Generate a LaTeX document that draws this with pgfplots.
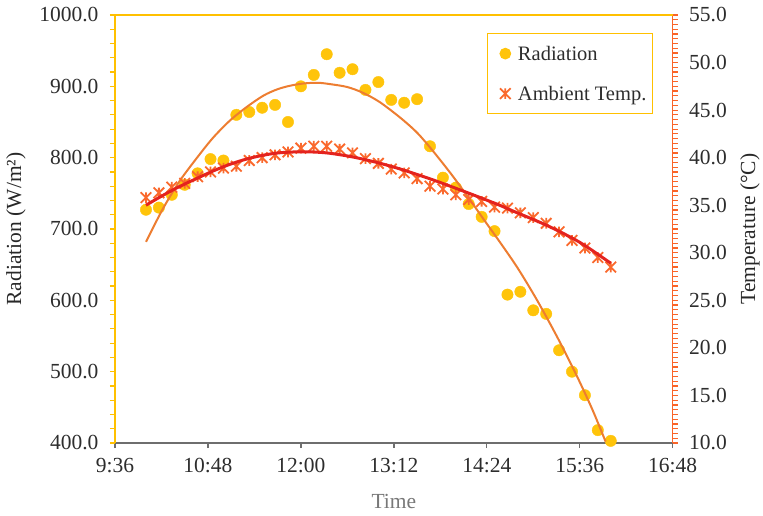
\documentclass[border=0pt]{standalone}
\usepackage{pgfplots}
\pgfplotsset{compat=1.18}
\usepackage{fontspec}
\setmainfont{Liberation Serif}

\definecolor{gold}{RGB}{255,192,0}
\definecolor{axorange}{RGB}{250,100,40}
\definecolor{dotgold}{RGB}{255,196,10}
\definecolor{trendorange}{RGB}{237,125,49}
\definecolor{tempmark}{RGB}{250,105,45}
\definecolor{tempred}{RGB}{228,35,30}
\definecolor{ticktext}{RGB}{45,45,45}
\definecolor{labeltext}{RGB}{40,40,40}
\definecolor{timegray}{RGB}{120,120,120}
\definecolor{bottomgray}{RGB}{110,110,110}

% x-cross with a vertical stroke, as used for the temperature readings
\pgfdeclareplotmark{starx}{%
  \pgfpathmoveto{\pgfqpoint{-\pgfplotmarksize}{-\pgfplotmarksize}}%
  \pgfpathlineto{\pgfqpoint{\pgfplotmarksize}{\pgfplotmarksize}}%
  \pgfpathmoveto{\pgfqpoint{-\pgfplotmarksize}{\pgfplotmarksize}}%
  \pgfpathlineto{\pgfqpoint{\pgfplotmarksize}{-\pgfplotmarksize}}%
  \pgfpathmoveto{\pgfqpoint{0pt}{-\pgfplotmarksize}}%
  \pgfpathlineto{\pgfqpoint{0pt}{\pgfplotmarksize}}%
  \pgfusepathqstroke}

% time is given in minutes after midnight
\pgfplotstableread{
t   rad
600 727
610 730
620 748
630 762
640 778
650 798
660 796
670 860
680 864
690 870
700 874
710 850
720 900
730 916
740 945
750 919
760 924
770 895
780 906
790 881
800 877
810 882
820 816
830 772
840 758
850 735
860 717
870 697
880 608
890 612
900 586
910 581
920 530
930 500
940 467
950 418
960 403
}\radiation

\pgfplotstableread{
t   temp
600 35.8
610 36.3
620 36.9
630 37.3
640 38.0
650 38.5
660 38.9
670 39.1
680 39.7
690 40.0
700 40.3
710 40.6
720 41.0
730 41.2
740 41.2
750 40.9
760 40.5
770 39.9
780 39.4
790 38.8
800 38.4
810 37.8
820 37.0
830 36.7
840 36.1
850 35.6
860 35.4
870 34.8
880 34.7
890 34.2
900 33.7
910 33.1
920 32.2
930 31.3
940 30.5
950 29.5
960 28.5
}\temperature

% polynomial trend curves
\pgfplotstableread{
t   rad
600 682
613 728
626 767
640 801
652 828
665 852
678 871
691 887
702 896
712 901
722 904
733 905
743 903
756 899
768 891
781 878
797 856
810 835
822 810
836 778
849 746
861 715
874 682
888 645
903 600
919 547
934 493
946 446
956 402
}\radtrend

\pgfplotstableread{
t   temp
600 35.0
612 35.95
625 36.9
640 37.86
652 38.6
665 39.3
678 39.86
691 40.26
704 40.52
722 40.62
740 40.5
760 40.08
781 39.42
799 38.72
822 37.68
849 36.32
874 35.0
885 34.35
911 32.85
936 31.1
960 28.9
}\temptrend

\pgfplotsset{
  common/.style={
    scale only axis, width=557.7bp, height=428bp,
    at={(0,0)}, anchor=south west,
    xmin=576, xmax=1008,
    tick align=outside,
    major tick length=5bp, minor tick length=5bp,
    clip mode=individual,
    /pgf/number format/assume math mode=true,
    tick label style={font=\fontsize{21.5bp}{25bp}\selectfont, text=ticktext},
    label style={font=\fontsize{21.5bp}{25bp}\selectfont},
  },
}

\begin{document}
\begin{tikzpicture}
\begin{axis}[common, name=left,
  ymin=400, ymax=1000, ytick={400,500,...,1000}, minor y tick num=4,
  axis y line*=left, axis x line*=bottom,
  xtick={576,648,720,792,864,936,1008},
  xticklabels={9:36,10:48,12:00,13:12,14:24,15:36,16:48},
  y axis line style={gold, line width=1.5bp},
  x axis line style={bottomgray, line width=1.3bp},
  ytick style={gold, line width=1.2bp},
  xtick style={bottomgray, line width=1.3bp},
  yticklabel style={/pgf/number format/fixed, /pgf/number format/fixed zerofill,
    /pgf/number format/precision=1, /pgf/number format/1000 sep={}, xshift=-8bp},
  xticklabel style={yshift=-7bp},
  xlabel={Time},
  xlabel style={at={(axis description cs:0.5,-0.152)}, anchor=base, text=timegray},
  ylabel={Radiation (W/m²)},
  ylabel style={at={(axis description cs:-0.1775,0.5)}, anchor=center, text=labeltext},
]
\addplot[dotgold, only marks, mark=*, mark size=5.7bp]
  table[x=t, y=rad] {\radiation};
\addplot[no markers, smooth, trendorange, line width=2bp] table[x=t, y=rad] {\radtrend};
\end{axis}

\begin{axis}[common, name=right,
  ymin=10, ymax=55, ytick={10,15,...,55}, minor y tick num=9,
  axis y line*=right, axis x line=none,
  y axis line style={axorange, line width=1.5bp},
  ytick style={axorange, line width=1.2bp},
  yticklabel style={/pgf/number format/fixed, /pgf/number format/fixed zerofill,
    /pgf/number format/precision=1, xshift=8bp},
  ylabel={Temperature (°C)},
  ylabel style={at={(axis description cs:1.1386,0.5)}, anchor=center, text=labeltext},
  legend style={at={(axis description cs:0.9647,0.958)}, anchor=north east,
    draw=gold, line width=1.3bp, fill=white,
    font=\fontsize{20.5bp}{24bp}\selectfont, text=ticktext,
    inner xsep=6bp, inner ysep=7bp, row sep=14bp,
    nodes={inner sep=0pt, text height=20bp, text depth=6bp},
    /tikz/every odd column/.style={column sep=6bp}},
  legend cell align=left,
  legend image code/.code={%
    \path (0bp,-1bp) (17bp,1bp);
    \draw[#1] plot coordinates {(11bp,0bp)};},
]
\addlegendimage{dotgold, only marks, mark=*, mark size=5.2bp}
\addlegendentry{Radiation}
\addplot[tempmark, only marks, mark=starx, mark size=5.3bp, mark options={line width=1.8bp}]
  table[x=t, y=temp] {\temperature};
\addlegendentry{Ambient Temp.}
\addplot[no markers, smooth, tempred, line width=3bp, forget plot] table[x=t, y=temp] {\temptrend};
\end{axis}

\draw[gold, line width=1.5bp] (left.north west) -- (left.north east);

\pgfresetboundingbox
\path ([shift={(-115bp,-73bp)}]left.south west) rectangle ([shift={(648bp,443bp)}]left.south west);
\end{tikzpicture}
\end{document}
